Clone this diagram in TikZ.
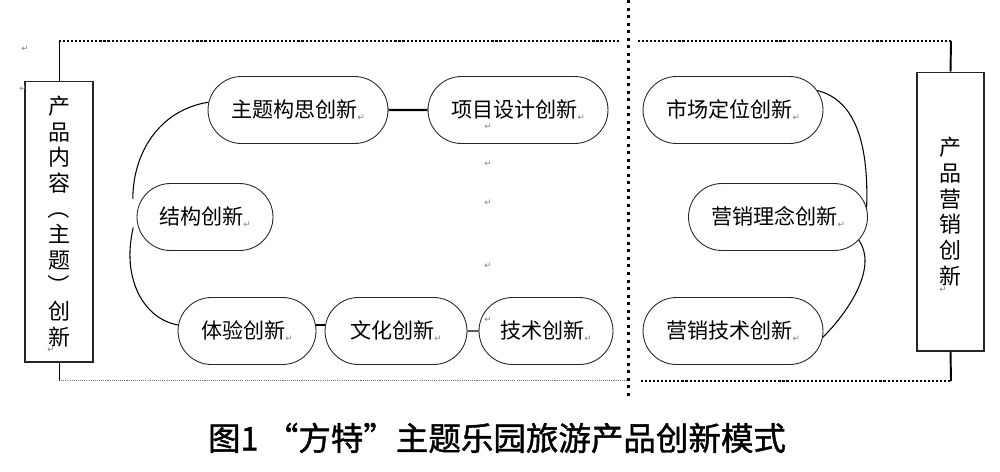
\documentclass[tikz,border=0pt]{standalone}
\usepackage{fontspec}
\setmainfont{Noto Sans CJK SC}
\newfontfamily\symfont{DejaVu Sans}
\newfontfamily\capfont[FakeBold=1.3]{Noto Sans CJK SC}
\usetikzlibrary{shapes.misc}
\newcommand{\retmark}{\raisebox{-2pt}{\symfont\fontsize{5pt}{5pt}\selectfont\textcolor{gray}{↵}}}
\newcommand{\vparl}{\rotatebox[origin=c]{-90}{（}}
\newcommand{\vparr}{\rotatebox[origin=c]{-90}{）}}

\begin{document}
\begin{tikzpicture}[x=0.02cm, y=-0.02cm, every node/.style={text=black, inner sep=0pt},
		pill/.style={draw=black!85, line width=0.5pt, rounded rectangle, minimum height=1.34cm, font=\fontsize{12}{14}\selectfont},
		sidebox/.style={draw=black!85, line width=0.6pt, align=center, font=\fontsize{12.5}{14.6}\selectfont},
		heavydots/.style={line width=1.4pt, dash pattern=on 1.2pt off 1.1pt},
		thindots/.style={line width=0.4pt, black!55, dash pattern=on 0.6pt off 0.6pt},
		divider/.style={line width=1.7pt, dash pattern=on 1.7pt off 2.6pt},
		retnode/.style={font=\fontsize{5}{5}\selectfont}]
		\useasboundingbox (0,0) rectangle (1000,471);
		% left part: product content
		\node[sidebox, minimum width=1.36cm, minimum height=5.62cm] (lb) at (59,221.5) {产\\品\\内\\容\\\vparl\\主\\题\\\vparr\\创\\新};
		\coordinate (tl) at (59,41);
		\coordinate (tlr) at (620,41);
		\coordinate (bl) at (59,380);
		\coordinate (blr) at (628,380);
		\draw[line width=0.5pt] (lb.north) -- (tl);
		\draw[line width=0.5pt] (lb.south) -- (bl);
		\draw[heavydots] (tl) -- (tlr);
		\draw[thindots] (bl) -- (blr);
		\node[pill, minimum width=3.6cm] (zt) at (298,110) {主题构思创新\retmark};
		\node[pill, minimum width=3.6cm] (xm) at (518,110) {项目设计创新\retmark};
		\draw[line width=1.2pt] (zt) -- (xm);
		\node[pill, minimum width=2.72cm] (jg) at (205,217) {结构创新\retmark};
		\draw[line width=0.6pt] (zt.175) .. controls +(-50,8) and +(0,-45) .. ([xshift=-0.18cm]jg.164);
		\node[pill, minimum width=2.76cm] (ty) at (247,331) {体验创新\retmark};
		\draw[line width=0.6pt] ([xshift=-0.1cm]jg.189) .. controls +(-12,50) and +(-35,-6) .. (ty.175);
		\node[pill, minimum width=2.84cm] (wh) at (396,331) {文化创新\retmark};
		\draw[line width=0.8pt] ([yshift=0.12cm]ty.east) -- ([yshift=0.12cm]wh.west);
		\node[pill, minimum width=2.68cm] (js) at (546,331) {技术创新\retmark};
		\draw[line width=0.8pt] (wh) -- (js);
		% divider
		\coordinate (dv1) at (628,0);
		\coordinate (dv2) at (628,398);
		\draw[divider] (dv1) -- (dv2);
		% right part: marketing
		\node[sidebox, minimum width=1.34cm, minimum height=5.58cm] (rb) at (950.5,211.5) {产\\品\\营\\销\\创\\新};
		\coordinate (tr) at (951,41);
		\coordinate (trl) at (638,41);
		\coordinate (br) at (951,381);
		\coordinate (brl) at (641,381);
		\draw[line width=1.1pt] (rb.north) -- (tr);
		\draw[line width=1.1pt] (rb.south) -- (br);
		\draw[heavydots] (trl) -- (tr);
		\draw[heavydots] (brl) -- (br);
		\node[pill, minimum width=3.6cm] (sc) at (733,110) {市场定位创新\retmark};
		\node[pill, minimum width=3.58cm] (yx) at (778,217) {营销理念创新\retmark};
		\draw[line width=0.6pt] (sc.13) .. controls +(40,10) and +(2,-60) .. (yx.6);
		\node[pill, minimum width=3.6cm] (yj) at (733,331) {营销技术创新\retmark};
		\draw[line width=0.6pt] (yx.-16) .. controls +(18,25) and +(30,-30) .. (yj.-4);
		% stray paragraph marks
		\node[retnode] (m1) at (25,49) {\retmark};
		\node[retnode] (m2) at (23,89) {\retmark};
		\node[retnode] (m3) at (488,127) {\retmark};
		\node[retnode] (m4) at (488,164) {\retmark};
		\node[retnode] (m5) at (488,203) {\retmark};
		\node[retnode] (m6) at (488,266) {\retmark};
		\node[retnode] (m7) at (488,320) {\retmark};
		\node[retnode] (m8) at (51,350) {\retmark};
		\node[retnode] (m9) at (943,290) {\retmark};
		% caption
		\node[font=\capfont\fontsize{18.5}{20}\selectfont] (cap) at (497,438) {图1\ “方特”主题乐园旅游产品创新模式};
	\end{tikzpicture}
\end{document}
